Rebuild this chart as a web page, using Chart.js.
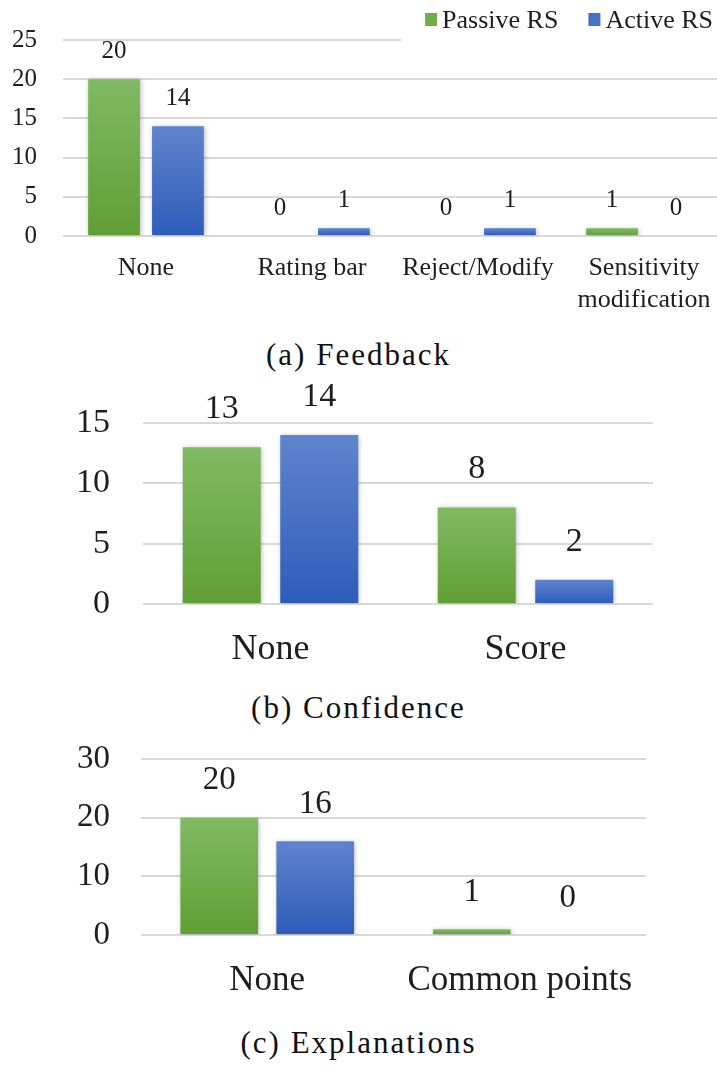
<!DOCTYPE html>
<html><head><meta charset="utf-8">
<script src="https://cdn.jsdelivr.net/npm/chart.js@4"></script>
<style>
html,body{margin:0;padding:0;background:#fff;overflow:hidden;width:717px;height:1066px;position:relative}
.box{position:absolute;left:0}
.cap{position:absolute;left:0;width:717px;text-align:center;font-family:'Liberation Serif',serif;font-size:31px;letter-spacing:2px;color:#111;line-height:31px;white-space:nowrap}
</style></head><body>
<div class="box" style="top:0px"><canvas id="ca" width="728" height="320"></canvas></div>
<div class="cap" style="top:339px">(a) Feedback</div>
<div class="box" style="top:380px"><canvas id="cb" width="717" height="300"></canvas></div>
<div class="cap" style="top:692px">(b) Confidence</div>
<div class="box" style="top:730px"><canvas id="cc" width="717" height="270"></canvas></div>
<div class="cap" style="top:1027px">(c) Explanations</div>
<script>
// ---- data ----
const seriesNames = ['Passive RS', 'Active RS'];
const feedbackCats = ['None', 'Rating bar', 'Reject/Modify', ['Sensitivity', 'modification']];
const feedbackPassive = [20, 0, 0, 1];
const feedbackActive = [14, 1, 1, 0];
const feedbackTicks = [0, 5, 10, 15, 20, 25];
const confidenceCats = ['None', 'Score'];
const confidencePassive = [13, 8];
const confidenceActive = [14, 2];
const confidenceTicks = [0, 5, 10, 15];
const explanationCats = ['None', 'Common points'];
const explanationPassive = [20, 1];
const explanationActive = [16, 0];
const explanationTicks = [0, 10, 20, 30];

// ---- styles ----
const FONT = "'Liberation Serif', 'Times New Roman', serif";
const GREEN = ['#82b964', '#5f9f34', '#70ad47'];
const BLUE = ['#6084cd', '#2d5cb9', '#4472c4'];
const TEXT = '#1e1e1e';

function grad(c, top, bot) {
  const ch = c.chart, ys = ch.scales.y;
  if (!ys || c.raw == null) return bot;
  const y0 = ys.getPixelForValue(0), y1 = ys.getPixelForValue(c.raw);
  if (!isFinite(y0) || !isFinite(y1) || Math.abs(y0 - y1) < 0.5) return bot;
  const g = ch.ctx.createLinearGradient(0, y1, 0, y0);
  g.addColorStop(0, top); g.addColorStop(1, bot);
  return g;
}

const shadow = {
  id: 'shadow',
  beforeDatasetsDraw(chart) {
    const ctx = chart.ctx; ctx.save();
    ctx.shadowColor = 'rgba(0,0,0,0.28)'; ctx.shadowBlur = 5; ctx.shadowOffsetX = 1; ctx.shadowOffsetY = 1;
  },
  afterDatasetsDraw(chart) { chart.ctx.restore(); }
};

const valueLabels = {
  id: 'valueLabels',
  afterDatasetsDraw(chart, args, opts) {
    const ctx = chart.ctx; ctx.save();
    ctx.font = opts.size + 'px ' + FONT; ctx.fillStyle = TEXT;
    ctx.textAlign = 'center'; ctx.textBaseline = 'middle';
    chart.data.datasets.forEach((ds, i) => {
      chart.getDatasetMeta(i).data.forEach((el, j) => {
        ctx.fillText(String(ds.data[j]), el.x, el.y - opts.offset);
      });
    });
    ctx.restore();
  }
};

const topLegend = {
  id: 'topLegend',
  afterDraw(chart, args, opts) {
    if (!opts.show) return;
    const ctx = chart.ctx; ctx.save();
    ctx.font = opts.size + 'px ' + FONT;
    const widths = chart.data.datasets.map(d => ctx.measureText(d.label).width);
    let total = 0;
    widths.forEach((w, i) => { total += 12 + 5 + w + (i < widths.length - 1 ? opts.gap : 0); });
    let x = chart.chartArea.right - opts.inset - total;
    // white legend background hides the top gridline behind the legend
    ctx.fillStyle = '#fff';
    ctx.fillRect(x - 24, chart.chartArea.top - 4, chart.width, 8);
    const cy = opts.y;
    chart.data.datasets.forEach((d, i) => {
      ctx.fillStyle = opts.colors[i];
      ctx.fillRect(x, cy - 7, 12, 13);
      x += 17;
      ctx.fillStyle = TEXT; ctx.textAlign = 'left'; ctx.textBaseline = 'middle';
      ctx.fillText(d.label, x, cy + 1);
      x += widths[i] + opts.gap;
    });
    ctx.restore();
  }
};

function makeChart(id, cats, passive, active, ticks, cfg) {
  return new Chart(document.getElementById(id), {
    type: 'bar',
    data: {
      labels: cats,
      datasets: [
        { label: seriesNames[0], data: passive, backgroundColor: c => grad(c, GREEN[0], GREEN[1]),
          categoryPercentage: cfg.cat, barPercentage: cfg.bar, borderWidth: 0 },
        { label: seriesNames[1], data: active, backgroundColor: c => grad(c, BLUE[0], BLUE[1]),
          categoryPercentage: cfg.cat, barPercentage: cfg.bar, borderWidth: 0 }
      ]
    },
    options: {
      responsive: false,
      animation: false,
      layout: { padding: { top: cfg.top, left: 0, right: cfg.right, bottom: 0 } },
      plugins: {
        legend: { display: false },
        tooltip: { enabled: false },
        valueLabels: { size: cfg.labelSize, offset: cfg.labelOffset },
        topLegend: { show: !!cfg.legend, size: 26, gap: 30, inset: 14, y: 20, colors: [GREEN[2], BLUE[2]] }
      },
      scales: {
        x: {
          grid: { display: false, drawTicks: false },
          border: { display: false },
          ticks: { font: { family: FONT, size: cfg.xSize, lineHeight: 1.2 }, color: TEXT, padding: cfg.xPad, maxRotation: 0, autoSkip: false },
          afterFit: s => { s.height = cfg.xHeight; s.paddingLeft = 0; s.paddingRight = 0; }
        },
        y: {
          min: ticks[0], max: ticks[ticks.length - 1],
          afterBuildTicks: s => { s.ticks = ticks.map(v => ({ value: v })); },
          grid: { color: '#d9d9d9', lineWidth: 2, drawTicks: false },
          border: { display: false },
          ticks: { font: { family: FONT, size: cfg.ySize }, color: TEXT, padding: cfg.yPad },
          afterFit: s => { s.width = cfg.yWidth; s.paddingTop = 0; s.paddingBottom = 0; }
        }
      }
    },
    plugins: [shadow, valueLabels, topLegend]
  });
}

makeChart('ca', feedbackCats, feedbackPassive, feedbackActive, feedbackTicks, {
  cat: 0.77, bar: 0.81, top: 40, right: 1, xHeight: 84, xPad: 17, xSize: 26, ySize: 25, yPad: 26, yWidth: 63,
  labelSize: 25, labelOffset: 28, legend: true
});
makeChart('cb', confidenceCats, confidencePassive, confidenceActive, confidenceTicks, {
  cat: 0.765, bar: 0.8, top: 43, right: 64, xHeight: 76, xPad: 24, xSize: 36, ySize: 34, yPad: 33, yWidth: 143,
  labelSize: 34, labelOffset: 38
});
makeChart('cc', explanationCats, explanationPassive, explanationActive, explanationTicks, {
  cat: 0.76, bar: 0.81, top: 29, right: 71, xHeight: 65, xPad: 25, xSize: 35, ySize: 33, yPad: 31, yWidth: 141,
  labelSize: 33, labelOffset: 37
});
</script>
</body></html>
